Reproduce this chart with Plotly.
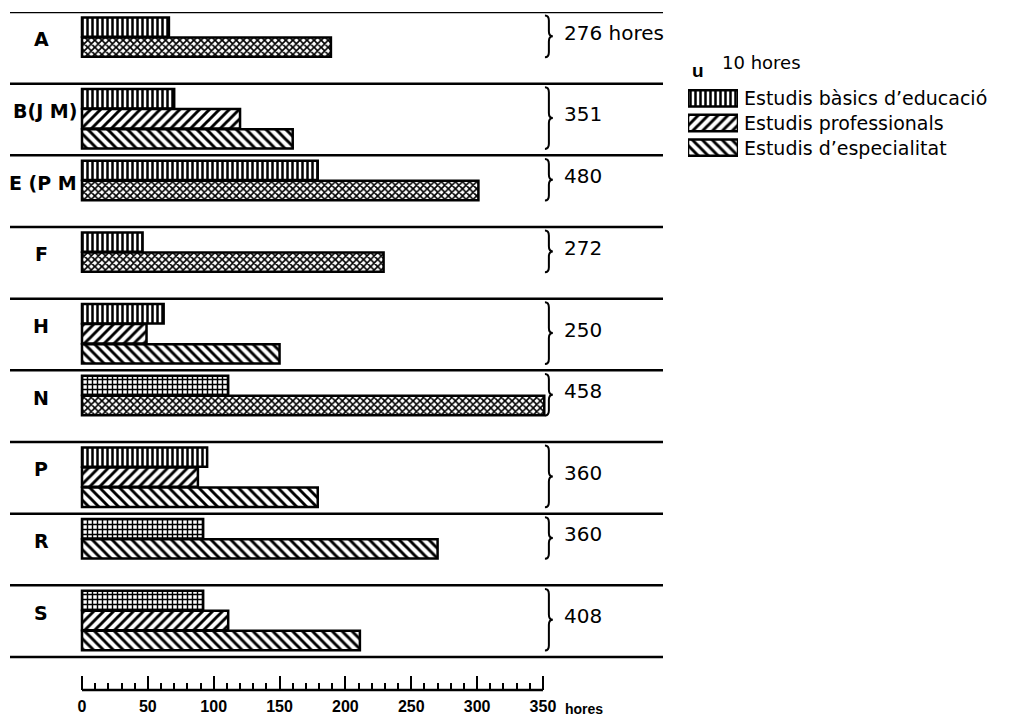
import plotly.graph_objects as go

# ---------------- data ----------------
groups = ["A", "B(J M)", "E (P M", "F", "H", "N", "P", "R", "S"]
totals = ["276 hores", "351", "480", "272", "250", "458", "360", "360", "408"]
basic = [66, 70, 179, 46, 62, 111, 95, 92, 92]
professional = [None, 120, None, None, 49, None, 88, None, 111]
specialty = [None, 160, None, None, 150, None, 179, 270, 211]
combined = [189, None, 301, 229, None, 351, None, None, None]

ruler_ticks = [0, 50, 100, 150, 200, 250, 300, 350]
ruler_minor = list(range(0, 351, 10))
axis_unit = "hores"
legend_names = ["Estudis bàsics d’educació", "Estudis professionals", "Estudis d’especialitat"]
legend_len = [1, 1, 1]
unit_note = "10 hores"

# ---------------- styles ----------------
basic_shapes = ["|", "|", "|", "|", "|", "+", "|", "+", "+"]
FONT = "DejaVu Sans"
W, H = 1016, 719
ML, MR, MT, MB = 10, 6, 12, 29
X0PX, PXU = 82.0, 1.317          # pixel of 0 h, pixels per hour
PLOT_R = 663.0
PAD, SLOT, BARW = 0.07, 0.28, 0.27
NB = len(groups)
YBOT = 9.46

paper_w = W - ML - MR
paper_h = H - MT - MB
xrange_ = [(ML - X0PX) / PXU, (PLOT_R - X0PX) / PXU]


def px(xp):
    return (xp - ML) / paper_w


def py(yp):
    return (H - MB - yp) / paper_h


series = [
    ("basic", basic, basic_shapes, 5, 0.5),
    ("prof", professional, ["/"] * NB, 7, 0.42),
    ("spec", specialty, ["\\"] * NB, 7, 0.42),
    ("comb", combined, ["x"] * NB, 5, 0.55),
]

pos = {}
count = []
for i in range(NB):
    k = 0
    for name, vals, _, _, _ in series:
        if vals[i] is not None:
            pos[(name, i)] = i + PAD + SLOT * k + SLOT / 2
            k += 1
    count.append(k)

fig = go.Figure()
for name, vals, shapes_, psize, psol in series:
    xs, ys, shp = [], [], []
    for i, v in enumerate(vals):
        if v is not None:
            xs.append(v)
            ys.append(pos[(name, i)])
            shp.append(shapes_[i])
    fig.add_trace(go.Bar(
        x=xs, y=ys, base=0, orientation="h", width=BARW,
        marker=dict(color="white", line=dict(color="black", width=2.5),
                    pattern=dict(shape=shp, fgcolor="black", bgcolor="white",
                                 size=psize, solidity=psol, fillmode="replace")),
        showlegend=False, hoverinfo="x", xaxis="x", yaxis="y"))

# legend swatches on their own small axes
fig.add_trace(go.Bar(
    x=legend_len, y=[0, 1, 2], base=0, orientation="h", width=0.66,
    marker=dict(color="white", line=dict(color="black", width=2.5),
                pattern=dict(shape=["|", "/", "\\"], fgcolor="black", bgcolor="white",
                             size=[5, 7, 7], solidity=[0.5, 0.42, 0.42], fillmode="replace")),
    showlegend=False, hoverinfo="skip", xaxis="x2", yaxis="y2"))

shapes = []
# band separator lines
for b in range(NB + 1):
    shapes.append(dict(type="line", xref="x domain", yref="y", x0=0, x1=1, y0=b, y1=b,
                       line=dict(color="black", width=2.5)))

# braces
brace_x = max(ruler_ticks) + 1.5
brace_w = 6.0
annotations = []
for i in range(NB):
    yt = i + PAD - 0.02
    yb = i + PAD + SLOT * count[i]
    ym = (yt + yb) / 2
    r = 0.07
    xm = brace_x + brace_w / 2
    xe = brace_x + brace_w
    path = (f"M {brace_x},{yt} Q {xm},{yt} {xm},{yt + r} L {xm},{ym - r} "
            f"Q {xm},{ym} {xe},{ym} Q {xm},{ym} {xm},{ym + r} L {xm},{yb - r} "
            f"Q {xm},{yb} {brace_x},{yb}")
    shapes.append(dict(type="path", xref="x", yref="y", path=path,
                       line=dict(color="black", width=2)))
    annotations.append(dict(x=brace_x + 13, y=ym - 0.05, xref="x", yref="y",
                            text=totals[i], showarrow=False, xanchor="left", yanchor="middle",
                            font=dict(family=FONT, size=20, color="black")))
    # row label
    ly = i + PAD + SLOT + 0.03
    if len(groups[i]) > 1:
        annotations.append(dict(x=-2, y=ly, xref="x", yref="y", text=groups[i],
                                showarrow=False, xanchor="right", yanchor="middle",
                                font=dict(family=FONT, size=19, color="black", weight="bold")))
    else:
        annotations.append(dict(x=-31, y=ly, xref="x", yref="y", text=groups[i],
                                showarrow=False, xanchor="center", yanchor="middle",
                                font=dict(family=FONT, size=19, color="black", weight="bold")))

# ruler baseline
shapes.append(dict(type="line", xref="x", yref="y domain", x0=min(ruler_ticks), x1=max(ruler_ticks),
                   y0=0, y1=0, line=dict(color="black", width=2.5)))
annotations.append(dict(x=max(ruler_ticks), y=0, xref="x", yref="y domain", text=axis_unit,
                        showarrow=False, xanchor="left", yanchor="top", xshift=20, yshift=-9,
                        font=dict(family="Liberation Sans", size=14, color="black", weight="bold")))

# legend texts
for k, nm in enumerate(legend_names):
    annotations.append(dict(x=1, y=k, xref="x2", yref="y2", text=nm, showarrow=False,
                            xanchor="left", yanchor="middle", xshift=4,
                            font=dict(family=FONT, size=19, color="black")))
annotations.append(dict(x=px(720), y=py(62), xref="paper", yref="paper", text=unit_note,
                        showarrow=False, xanchor="left", yanchor="middle",
                        font=dict(family=FONT, size=18, color="black")))
annotations.append(dict(x=px(690), y=py(71), xref="paper", yref="paper", text="u",
                        showarrow=False, xanchor="left", yanchor="middle",
                        font=dict(family="Liberation Sans", size=19, color="black", weight="bold")))

fig.update_layout(
    width=W, height=H, autosize=False,
    margin=dict(l=ML, r=MR, t=MT, b=MB, pad=0, autoexpand=False),
    paper_bgcolor="white", plot_bgcolor="white",
    barmode="overlay", showlegend=False,
    xaxis=dict(domain=[0, px(PLOT_R)], range=xrange_, showgrid=False, zeroline=False,
               showline=False, tickmode="array", tickvals=ruler_ticks, automargin=False,
               ticktext=[str(t) for t in ruler_ticks], ticks="inside", ticklen=14, tickwidth=2,
               tickcolor="black", ticklabelstandoff=5,
               minor=dict(tickmode="array", tickvals=ruler_minor, ticks="inside", ticklen=7,
                          tickwidth=1.5, tickcolor="black"),
               tickfont=dict(family="Liberation Sans", size=16, color="black", weight="bold"),
               fixedrange=True),
    yaxis=dict(range=[YBOT, 0], showgrid=False, zeroline=False, showline=False, automargin=False,
               showticklabels=False, ticks="", fixedrange=True),
    xaxis2=dict(domain=[px(688), px(738)], range=[0, 1], automargin=False,
                anchor="y2", visible=False, fixedrange=True),
    yaxis2=dict(domain=[py(160), py(86)], range=[2.5, -0.5], automargin=False,
                anchor="x2", visible=False, fixedrange=True),
    shapes=shapes, annotations=annotations,
)

fig.write_html("out.html", config={"displayModeBar": False},
               post_script="document.body.style.margin='0';document.body.style.overflow='hidden';")
